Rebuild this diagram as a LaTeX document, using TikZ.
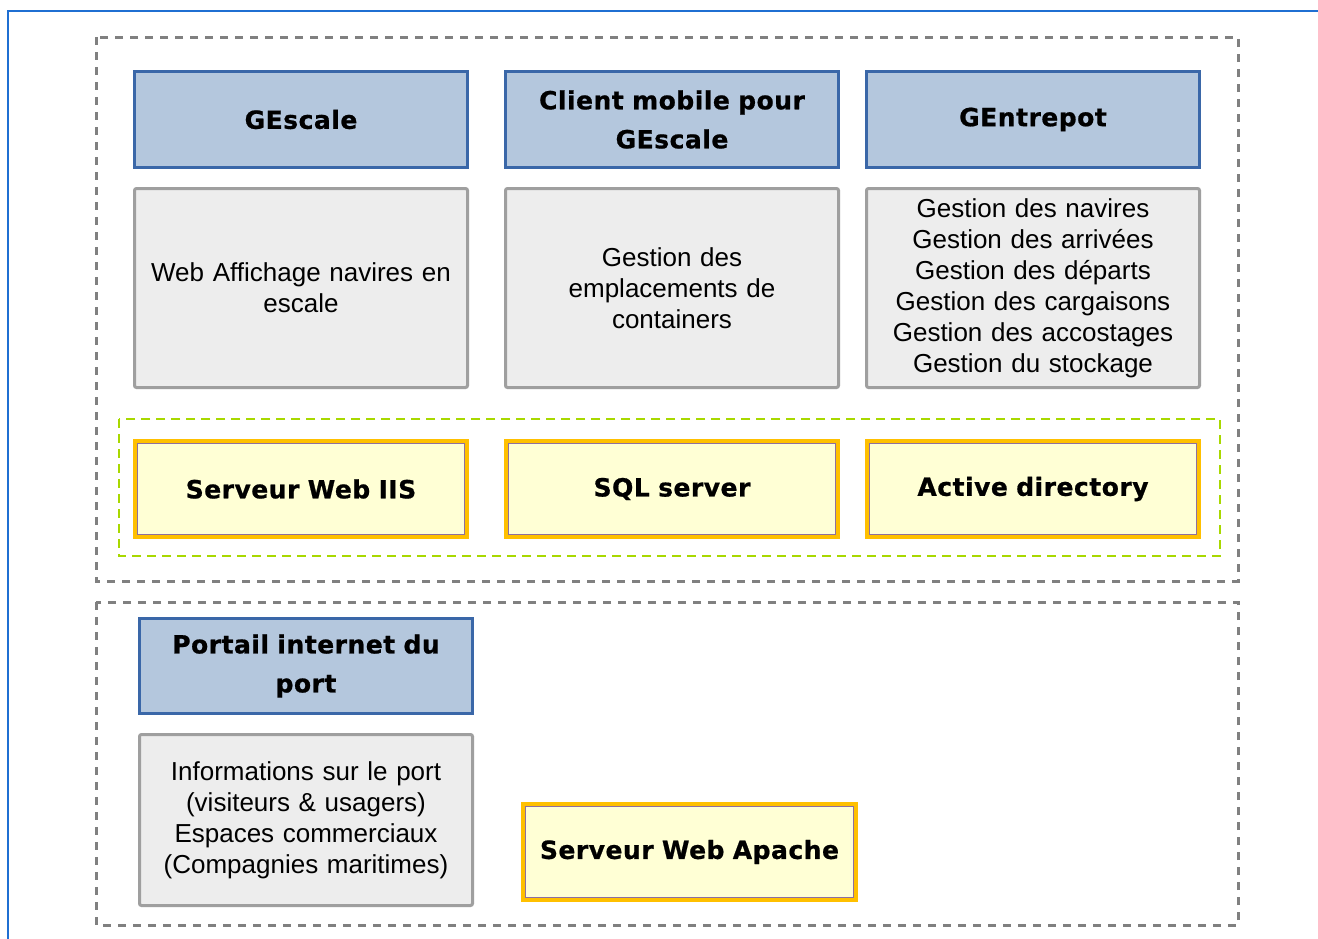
\documentclass[tikz,border=0pt]{standalone}
\usepackage{fontspec}
\setmainfont{Liberation Sans}
\newfontfamily\titlefont{DejaVu Sans}[BoldFont={DejaVu Sans Bold},BoldFeatures={FakeBold=0.8,LetterSpace=2}]
\begin{document}
\begin{tikzpicture}[x=1pt,y=-1pt,
  box/.style={outer sep=0pt,align=center,text width=318pt,anchor=north west},
  hdr/.style={box,draw=hdrblue,fill=hdrfill,line width=3pt,font=\titlefont\bfseries\fontsize{25}{39}\selectfont},
  desc/.style={box,draw=gray!75,fill=descfill,line width=3pt,rounded corners=2pt,font=\fontsize{26}{31}\selectfont},
  srv/.style={box,draw=srvorange,fill=srvfill,line width=4pt,font=\titlefont\bfseries\fontsize{25}{30}\selectfont},
  inner/.style={draw=innerpurple,line width=0.8pt},
  frame/.style={draw=framegray,line width=3pt,dash pattern=on 8pt off 7pt},
  gframe/.style={draw=greenish,line width=2.5pt,dash pattern=on 9pt off 6pt}
]
\definecolor{hdrblue}{HTML}{3A67A8}
\definecolor{hdrfill}{HTML}{B4C7DD}
\definecolor{descfill}{HTML}{EDEDED}
\definecolor{srvorange}{HTML}{FFC000}
\definecolor{srvfill}{HTML}{FFFFD5}
\definecolor{innerpurple}{HTML}{8E6FA0}
\definecolor{borderblue}{HTML}{1F6FD2}
\definecolor{framegray}{HTML}{808080}
\definecolor{greenish}{HTML}{A8D800}
\useasboundingbox (0,0) rectangle (1318,938);
\fill[white] (0,0) rectangle (1318,938);
\draw[borderblue,line width=2.5pt] (8,945) -- (8,11) -- (1325,11);
% frames
\draw[frame] (96,37) rectangle (1238,581);
\draw[frame] (96,602) rectangle (1238,925);
\draw[gframe] (119,419) rectangle (1220,556);
% headers
\node[hdr,minimum width=333pt,minimum height=96pt] (h1) at (134.5,71.5) {GEscale};
\node[hdr,minimum width=333pt,minimum height=96pt] (h2) at (505.5,71.5) {Client mobile pour\\GEscale};
\node[hdr,minimum width=333pt,minimum height=96pt] (h3) at (866.5,71.5) {GEntrepot};
% descriptions
\node[desc,minimum width=333pt,minimum height=199pt] (d1) at (134.5,188.5) {Web Affichage navires en\\escale};
\node[desc,minimum width=333pt,minimum height=199pt] (d2) at (505.5,188.5) {Gestion des\\emplacements de\\containers};
\node[desc,minimum width=333pt,minimum height=199pt] (d3) at (866.5,188.5) {Gestion des navires\\Gestion des arrivées\\Gestion des départs\\Gestion des cargaisons\\Gestion des accostages\\Gestion du stockage};
% servers
\node[srv,minimum width=332pt,minimum height=96pt] (s1) at (135,441) {Serveur Web IIS};
\node[srv,minimum width=332pt,minimum height=96pt] (s2) at (506,441) {SQL server};
\node[srv,minimum width=332pt,minimum height=96pt] (s3) at (867,441) {Active directory};
% bottom
\node[hdr,minimum width=333pt,minimum height=95pt] (p) at (139.5,618.5) {Portail internet du\\port};
\node[desc,minimum width=333pt,minimum height=171pt] (pi) at (139.5,734.5) {Informations sur le port\\(visiteurs \& usagers)\\Espaces commerciaux\\(Compagnies maritimes)};
\node[srv,minimum width=333pt,minimum height=96pt] (ap) at (523,804) {Serveur Web Apache};
% inner purple lines of server boxes
\foreach \n in {s1,s2,s3,ap}{
  \draw[inner] ([shift={(2.5,2.5)}]\n.north west) rectangle ([shift={(-2.5,-2.5)}]\n.south east);
}
\end{tikzpicture}
\end{document}
